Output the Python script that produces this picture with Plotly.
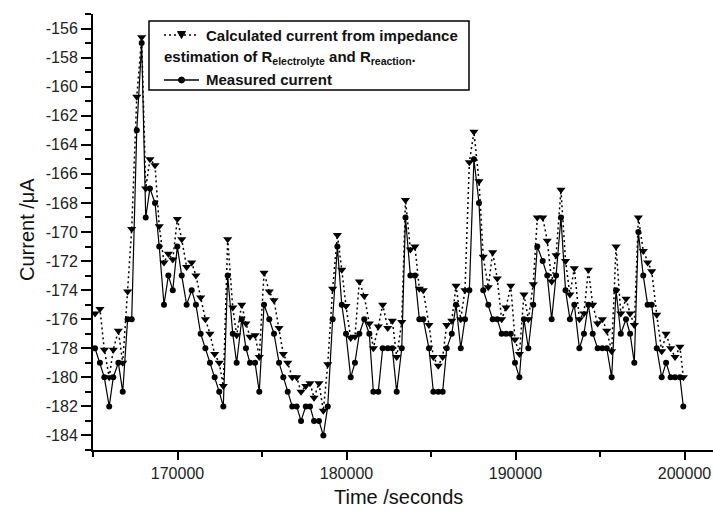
import plotly.graph_objects as go

# ---- data ----
time_s = [
    165120, 165410, 165670, 165960, 166200, 166500, 166760, 167050, 167290, 167590,
    167880, 168120, 168370, 168670, 168920, 169200, 169460, 169720, 169990, 170250,
    170540, 170840, 171090, 171370, 171650, 171920, 172200, 172470, 172710, 172970,
    173270, 173500, 173800, 174050, 174290, 174590, 174840, 175120, 175430, 175710,
    176010, 176260, 176520, 176790, 177050, 177310, 177590, 177840, 178080, 178370,
    178630, 178890, 179180, 179460, 179720, 179970, 180250, 180500, 180760, 181050,
    181350, 181590, 181880, 182140, 182440, 182710, 182970, 183270, 183490, 183780,
    184050, 184310, 184540, 184880, 185140, 185430, 185690, 185930, 186230, 186480,
    186760, 187010, 187270, 187540, 187840, 188090, 188390, 188650, 188920, 189180,
    189440, 189720, 189970, 190230, 190500, 190760, 191050, 191290, 191610, 191880,
    192140, 192400, 192690, 192960, 193220, 193480, 193780, 194050, 194310, 194570,
    194860, 195140, 195400, 195690, 195950, 196230, 196540, 196780, 197030, 197270,
    197560, 197820, 198060, 198360, 198650, 198910, 199180, 199440, 199730, 199930,
]

measured = [
    -178, -179, -180, -182, -180, -179, -181, -176, -176, -163,
    -157, -169, -167, -168, -171, -175, -173, -174, -171, -173,
    -175, -174, -175, -177, -178, -179, -180, -181, -182, -173,
    -177, -179, -176, -178, -179, -179, -181, -175, -176, -177,
    -179, -180, -181, -182, -182, -183, -182, -182, -183, -183,
    -184, -182, -176, -171, -175, -177, -180, -179, -177, -176,
    -177, -181, -181, -178, -178, -178, -181, -178, -169, -173,
    -173, -176, -176, -178, -181, -181, -181, -178, -177, -175,
    -178, -176, -174, -165, -168, -174, -175, -176, -176, -177,
    -177, -177, -179, -180, -176, -178, -175, -171, -172, -173,
    -176, -173, -169, -174, -176, -175, -178, -177, -175, -177,
    -178, -178, -178, -180, -174, -177, -176, -177, -179, -170,
    -173, -175, -175, -178, -180, -179, -180, -180, -180, -182,
]

calculated = [
    -175.6, -175.3, -178.1, -180.0, -178.1, -176.8, -179.0, -174.1, -169.8, -160.7,
    -156.6, -167.0, -165.0, -165.4, -169.6, -172.1, -171.5, -171.9, -169.1, -170.5,
    -172.4, -172.1, -173.0, -174.5, -176.0, -177.0, -178.4, -179.0, -180.6, -170.5,
    -175.2, -177.1, -175.0, -176.3, -177.2, -177.1, -178.6, -172.8, -174.1, -174.7,
    -176.6, -178.4, -179.0, -180.0, -180.0, -181.0, -180.6, -180.4, -181.4, -180.4,
    -182.3, -179.1, -173.9, -170.2, -172.6, -175.1, -177.3, -177.2, -173.4, -174.4,
    -176.3, -178.0, -176.5, -175.0, -176.6, -176.1, -178.6, -176.2, -167.8, -171.2,
    -171.0, -173.9, -174.0, -176.4, -178.6, -179.2, -178.6, -176.4, -176.1, -173.7,
    -176.0, -174.0, -165.2, -163.1, -166.5, -171.7, -173.8, -171.4, -173.2, -176.0,
    -175.2, -173.7, -177.4, -178.4, -174.3, -176.0, -173.6, -169.0, -169.0, -170.6,
    -173.4, -171.6, -167.1, -172.0, -174.3, -172.5, -176.0, -175.6, -172.6, -175.0,
    -176.3, -176.0, -176.8, -178.2, -171.0, -175.6, -174.6, -175.6, -176.4, -169.0,
    -171.3, -172.1, -172.7, -175.7, -178.2, -177.0, -178.0, -178.6, -177.9, -180.0,
]

y_tick_vals = [-184, -182, -180, -178, -176, -174, -172, -170, -168, -166, -164, -162, -160, -158, -156]
y_tick_text = ["-184", "-182", "-180", "-178", "-176", "-174", "-172", "-170", "-168", "-166",
               "-164", "-162", "-160", "-158", "-156"]
x_tick_vals = [170000, 180000, 190000, 200000]
x_tick_text = ["170000", "180000", "190000", "200000"]

legend_calc_1 = "Calculated current from impedance"
legend_calc_2 = "estimation of R<sub>electrolyte</sub> and R<sub>reaction</sub>."
legend_meas = "Measured current"

# ---- geometry ----
W, H = 713, 515
L, R, T, B = 93, 713, 14, 450
FONT = "Liberation Sans, Arial, sans-serif"


def pxx(x):
    return (x - L) / (R - L)


def pxy(y):
    return (B - y) / (B - T)


fig = go.Figure()

fig.add_trace(go.Scatter(
    x=time_s, y=calculated, mode="lines+markers", name=legend_calc_1,
    line=dict(color="black", width=1.5, dash="2px,3px"),
    marker=dict(symbol="triangle-down", size=8, color="black"),
    showlegend=False,
))
fig.add_trace(go.Scatter(
    x=time_s, y=measured, mode="lines+markers", name=legend_meas,
    line=dict(color="black", width=1.2),
    marker=dict(symbol="circle", size=6, color="black"),
    showlegend=False,
))

fig.update_layout(
    width=W, height=H,
    margin=dict(l=L, r=W - R, t=T, b=H - B, pad=0),
    paper_bgcolor="white", plot_bgcolor="white",
    font=dict(family=FONT, size=16, color="black"),
    xaxis=dict(
        range=[165000, 165000 + (R - L) * 10000 / 169],
        showgrid=False, zeroline=False,
        showline=True, linecolor="black", linewidth=2,
        tickmode="array", tickvals=x_tick_vals, ticktext=x_tick_text,
        ticks="outside", ticklen=8, tickwidth=2, tickcolor="black",
        tickfont=dict(family=FONT, size=16, color="#222"),
        minor=dict(tick0=165000, dtick=5000, ticks="outside", ticklen=5,
                   tickwidth=2, tickcolor="black", showgrid=False),
    ),
    yaxis=dict(
        range=[-185, -155],
        showgrid=False, zeroline=False,
        showline=True, linecolor="black", linewidth=2,
        tickmode="array", tickvals=y_tick_vals, ticktext=y_tick_text,
        ticks="outside", ticklen=10, tickwidth=2, tickcolor="black",
        tickfont=dict(family=FONT, size=16, color="#222"),
        minor=dict(tick0=-185, dtick=1, ticks="outside", ticklen=6,
                   tickwidth=2, tickcolor="black", showgrid=False),
    ),
)

annotations = [
    dict(text="Time /seconds", x=pxx(398), y=pxy(497), xref="paper", yref="paper",
         xanchor="center", yanchor="middle", showarrow=False,
         font=dict(family=FONT, size=20, color="#111")),
    dict(text="Current /μA", x=pxx(27), y=pxy(230), xref="paper", yref="paper",
         xanchor="center", yanchor="middle", showarrow=False, textangle=-90,
         font=dict(family=FONT, size=20, color="#111")),
    dict(text="<b>" + legend_calc_1 + "</b>", x=pxx(204), y=pxy(35), xref="paper", yref="paper",
         xanchor="left", yanchor="middle", showarrow=False,
         font=dict(family=FONT, size=15, color="#111")),
    dict(text="<b>" + legend_calc_2 + "</b>", x=pxx(162), y=pxy(57), xref="paper", yref="paper",
         xanchor="left", yanchor="middle", showarrow=False,
         font=dict(family=FONT, size=15, color="#111")),
    dict(text="<b>" + legend_meas + "</b>", x=pxx(204), y=pxy(80), xref="paper", yref="paper",
         xanchor="left", yanchor="middle", showarrow=False,
         font=dict(family=FONT, size=15, color="#111")),
]
fig.update_layout(annotations=annotations)

# legend frame and sample glyphs
shapes = [
    dict(type="rect", xref="paper", yref="paper",
         x0=pxx(149), x1=pxx(469), y0=pxy(90), y1=pxy(21),
         line=dict(color="black", width=1.5), fillcolor="white", layer="above"),
    dict(type="line", xref="paper", yref="paper",
         x0=pxx(164), x1=pxx(199), y0=pxy(35), y1=pxy(35),
         line=dict(color="black", width=1.5, dash="2px,3px"), layer="above"),
    dict(type="path", xref="paper", yref="paper",
         path="M {a},{b} L {c},{b} L {d},{e} Z".format(
             a=pxx(177.5), b=pxy(31.5), c=pxx(185.5), d=pxx(181.5), e=pxy(38.5)),
         line=dict(color="black", width=1), fillcolor="black", layer="above"),
    dict(type="line", xref="paper", yref="paper",
         x0=pxx(164), x1=pxx(199), y0=pxy(80), y1=pxy(80),
         line=dict(color="black", width=1.5), layer="above"),
    dict(type="circle", xref="paper", yref="paper",
         x0=pxx(178.5), x1=pxx(184.5), y0=pxy(83), y1=pxy(77),
         line=dict(color="black", width=1), fillcolor="black", layer="above"),
]
fig.update_layout(shapes=shapes)

fig.write_html("out.html")
